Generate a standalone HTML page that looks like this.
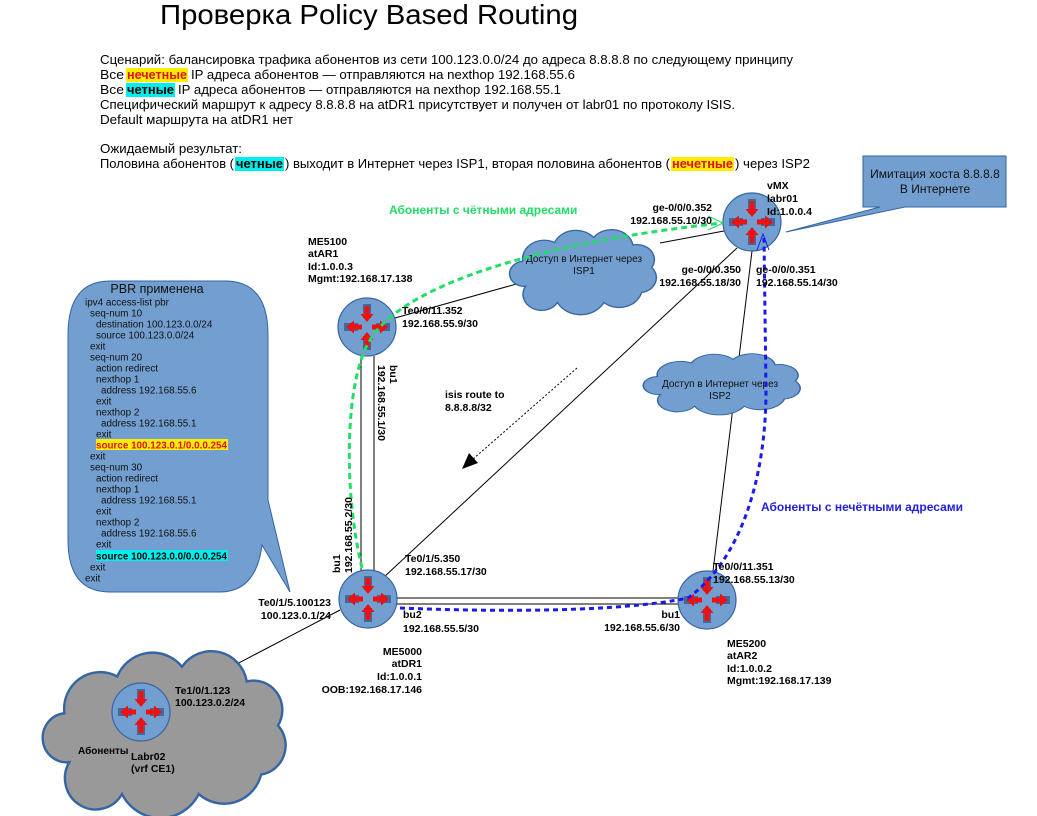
<!DOCTYPE html>
<html><head><meta charset="utf-8"><style>
html,body{margin:0;padding:0;background:#fff;}
svg{display:block;font-family:"Liberation Sans","DejaVu Sans",sans-serif;}
.b{font-weight:bold;font-size:10.5px;fill:#000;}
.p{font-size:9.9px;fill:#111;}
.s{font-size:13px;fill:#000;}
</style></head><body>
<svg width="1037" height="816" viewBox="0 0 1037 816" xmlns="http://www.w3.org/2000/svg">
<defs>
<path id="cl" d="M8,45 A10,10 0 0 1 6,25 A15,15 0 0 1 28,10 A16,16 0 0 1 55,6 A15,15 0 0 1 82,12 A12,12 0 0 1 95,30 A12,12 0 0 1 88,50 A16,16 0 0 1 62,58 A18,18 0 0 1 30,58 A12,12 0 0 1 8,45 Z"/>
<g id="rt">
<circle r="29" fill="#729fcf" stroke="#3465a4" stroke-width="1.2"/>
<g fill="#3f6aa0">
<rect x="-4" y="-23" width="8" height="14"/><rect x="-4" y="9" width="8" height="14"/>
<rect x="-23" y="-4" width="14" height="8"/><rect x="9" y="-4" width="14" height="8"/>
</g>
<g fill="#ee1111">
<rect x="-2.5" y="-21" width="5" height="9"/><polygon points="-6.5,-13 6.5,-13 0,-5"/>
<rect x="-2.5" y="12" width="5" height="9"/><polygon points="-6.5,13 6.5,13 0,5"/>
<rect x="-13" y="-2.5" width="8" height="5"/><polygon points="-13,-6.5 -13,6.5 -21,0"/>
<rect x="5" y="-2.5" width="8" height="5"/><polygon points="13,-6.5 13,6.5 21,0"/>
</g>
</g>
</defs>

<text x="160" y="24" font-size="28" textLength="418" lengthAdjust="spacingAndGlyphs">Проверка Policy Based Routing</text>
<text class="s" x="100" y="64" textLength="693" lengthAdjust="spacingAndGlyphs">Сценарий: балансировка трафика абонентов из сети 100.123.0.0/24  до адреса 8.8.8.8 по следующему принципу</text>
<text class="s" x="100" y="79" textLength="24" lengthAdjust="spacingAndGlyphs">Все</text>
<rect x="126" y="68" width="62" height="14" fill="#ffee00"/>
<text class="s" x="127" y="79" font-weight="bold" style="fill:#dd1111" textLength="60" lengthAdjust="spacingAndGlyphs">нечетные</text>
<text class="s" x="191" y="79" textLength="384" lengthAdjust="spacingAndGlyphs">IP адреса абонентов — отправляются на nexthop 192.168.55.6</text>
<text class="s" x="100" y="94" textLength="24" lengthAdjust="spacingAndGlyphs">Все</text>
<rect x="126" y="83" width="49" height="14" fill="#00eeee"/>
<text class="s" x="127" y="94" font-weight="bold" textLength="47" lengthAdjust="spacingAndGlyphs">четные</text>
<text class="s" x="178" y="94" textLength="383" lengthAdjust="spacingAndGlyphs">IP адреса абонентов — отправляются на nexthop 192.168.55.1</text>
<text class="s" x="100" y="109" textLength="635" lengthAdjust="spacingAndGlyphs">Специфический маршрут к адресу 8.8.8.8 на atDR1 присутствует и получен от labr01 по протоколу ISIS.</text>
<text class="s" x="100" y="124" textLength="193" lengthAdjust="spacingAndGlyphs">Default маршрута  на atDR1 нет</text>
<text class="s" x="100" y="153" textLength="142" lengthAdjust="spacingAndGlyphs">Ожидаемый результат:</text>
<text class="s" x="100" y="168" textLength="134" lengthAdjust="spacingAndGlyphs">Половина абонентов (</text>
<rect x="235" y="157" width="49" height="14" fill="#00eeee"/>
<text class="s" x="236" y="168" font-weight="bold" textLength="47" lengthAdjust="spacingAndGlyphs">четные</text>
<text class="s" x="285" y="168" textLength="385" lengthAdjust="spacingAndGlyphs">) выходит в Интернет через ISP1, вторая половина абонентов (</text>
<rect x="671" y="157" width="63" height="14" fill="#ffee00"/>
<text class="s" x="672" y="168" font-weight="bold" style="fill:#dd1111" textLength="61" lengthAdjust="spacingAndGlyphs">нечетные</text>
<text class="s" x="735" y="168" textLength="75" lengthAdjust="spacingAndGlyphs">) через ISP2</text>

<g stroke="#000" stroke-width="1" fill="none">
<line x1="361" y1="356" x2="361" y2="571"/><line x1="374" y1="356" x2="374" y2="571"/>
<line x1="397" y1="598" x2="680" y2="598"/><line x1="397" y1="604" x2="680" y2="604"/>
<line x1="395" y1="318" x2="520" y2="283"/>
<line x1="660" y1="243" x2="724" y2="231"/>
<line x1="737" y1="248" x2="383" y2="578"/>
<line x1="752" y1="251" x2="713" y2="571"/>
<line x1="168" y1="700" x2="340" y2="610"/>
</g>

<use href="#cl" transform="translate(514,230) scale(1.45,1.25)" fill="#729fcf" stroke="#3465a4" stroke-width="1" vector-effect="non-scaling-stroke"/>
<use href="#cl" transform="translate(648,354) scale(1.55,0.9)" fill="#729fcf" stroke="#3465a4" stroke-width="1" vector-effect="non-scaling-stroke"/>
<use href="#cl" transform="translate(50,652) scale(2.4,2.45)" fill="#999999" stroke="#3465a4" stroke-width="1" vector-effect="non-scaling-stroke"/>
<text x="584" y="262" font-size="10" text-anchor="middle" fill="#111">Доступ в Интернет через</text>
<text x="584" y="274" font-size="10" text-anchor="middle" fill="#111">ISP1</text>
<text x="720" y="387" font-size="10" text-anchor="middle" fill="#111">Доступ в Интернет через</text>
<text x="720" y="399" font-size="10" text-anchor="middle" fill="#111">ISP2</text>

<use href="#rt" x="367" y="327"/>
<use href="#rt" x="752" y="222"/>
<use href="#rt" x="368" y="599"/>
<use href="#rt" x="707" y="600"/>
<use href="#rt" x="141" y="712"/>

<path d="M110,281 H225 Q268,281 268,335 V500 L290,592 L262,545 Q256,592 220,592 H110 Q68,592 68,540 V335 Q68,281 110,281 Z" fill="#729fcf" stroke="#3465a4" stroke-width="1"/>
<text x="157" y="293" font-size="12.5" text-anchor="middle" fill="#111">PBR применена</text>
<g class="p">
<text x="85" y="305.5">ipv4 access-list pbr</text>
<text x="90" y="316.5">seq-num 10</text>
<text x="96" y="327.5">destination 100.123.0.0/24</text>
<text x="96" y="338.5">source 100.123.0.0/24</text>
<text x="90" y="349.5">exit</text>
<text x="90" y="360.5">seq-num 20</text>
<text x="96" y="371.5">action redirect</text>
<text x="96" y="382.5">nexthop 1</text>
<text x="101" y="393.5">address 192.168.55.6</text>
<text x="96" y="404.5">exit</text>
<text x="96" y="415.5">nexthop 2</text>
<text x="101" y="426.5">address 192.168.55.1</text>
<text x="96" y="437.5">exit</text>
<rect x="96" y="439" width="132" height="11" fill="#ffee00"/>
<text x="96" y="448.5" font-weight="bold" style="fill:#dd1111" textLength="131" lengthAdjust="spacingAndGlyphs">source 100.123.0.1/0.0.0.254</text>
<text x="90" y="459.5">exit</text>
<text x="90" y="470.5">seq-num 30</text>
<text x="96" y="481.5">action redirect</text>
<text x="96" y="492.5">nexthop 1</text>
<text x="101" y="503.5">address 192.168.55.1</text>
<text x="96" y="514.5">exit</text>
<text x="96" y="525.5">nexthop 2</text>
<text x="101" y="536.5">address 192.168.55.6</text>
<text x="96" y="547.5">exit</text>
<rect x="96" y="550" width="132" height="11" fill="#00eeee"/>
<text x="96" y="559.5" font-weight="bold" style="fill:#000" textLength="131" lengthAdjust="spacingAndGlyphs">source 100.123.0.0/0.0.0.254</text>
<text x="90" y="570.5">exit</text>
<text x="85" y="581.5">exit</text>
</g>

<path d="M863,156 H1006 V207 H905 L786,232 L880,207 H863 Z" fill="#729fcf" stroke="#3465a4" stroke-width="1"/>
<text x="935" y="178" font-size="12" text-anchor="middle" fill="#111">Имитация хоста 8.8.8.8</text>
<text x="935" y="193" font-size="12" text-anchor="middle" fill="#111">В Интернете</text>

<path d="M362,568 C343,490 345,380 370,340 C400,290 520,245 722,223" fill="none" stroke="#22dd66" stroke-width="3" stroke-dasharray="6,4"/>
<polyline points="708,216 723,223 708,230" fill="none" stroke="#22dd66" stroke-width="1"/>
<path d="M400,608 C500,612 620,612 688,598 C740,560 766,480 766,390 L764,238" fill="none" stroke="#1a1aee" stroke-width="3" stroke-dasharray="5,4"/>
<polyline points="757,250 763,234 769,250" fill="none" stroke="#1a1aee" stroke-width="1"/>

<line x1="577" y1="368" x2="472" y2="460" stroke="#000" stroke-width="1" stroke-dasharray="2,2"/>
<polygon points="462,469 469,453 478,463" fill="#000"/>

<text x="389" y="214" font-size="12" font-weight="bold" fill="#22dd66">Абоненты с чётными адресами</text>
<text x="761" y="511" font-size="12" font-weight="bold" fill="#2222dd">Абоненты с нечётными адресами</text>
<g class="b">
<text x="308" y="245">ME5100</text><text x="308" y="257">atAR1</text><text x="308" y="270">Id:1.0.0.3</text><text x="308" y="282">Mgmt:192.168.17.138</text>
<text x="402" y="314">Te0/0/11.352</text><text x="402" y="327">192.168.55.9/30</text>
<text x="767" y="189">vMX</text><text x="767" y="202">labr01</text><text x="767" y="215">Id:1.0.0.4</text>
<text x="712" y="211" text-anchor="end">ge-0/0/0.352</text><text x="712" y="224" text-anchor="end">192.168.55.10/30</text>
<text x="741" y="273" text-anchor="end">ge-0/0/0.350</text><text x="741" y="286" text-anchor="end">192.168.55.18/30</text>
<text x="756" y="273">ge-0/0/0.351</text><text x="756" y="286">192.168.55.14/30</text>
<text x="445" y="398">isis route to</text><text x="445" y="411">8.8.8.8/32</text>
<text transform="translate(390,365) rotate(90)">bu1</text>
<text transform="translate(378,365) rotate(90)">192.168.55.1/30</text>
<text transform="translate(340,573) rotate(-90)">bu1</text>
<text transform="translate(352,573) rotate(-90)">192.168.55.2/30</text>
<text x="405" y="562">Te0/1/5.350</text><text x="405" y="575">192.168.55.17/30</text>
<text x="331" y="606" text-anchor="end">Te0/1/5.100123</text><text x="331" y="619" text-anchor="end">100.123.0.1/24</text>
<text x="403" y="618">bu2</text><text x="403" y="632">192.168.55.5/30</text>
<text x="422" y="655" text-anchor="end">ME5000</text><text x="422" y="667" text-anchor="end">atDR1</text><text x="422" y="680" text-anchor="end">Id:1.0.0.1</text><text x="422" y="693" text-anchor="end">OOB:192.168.17.146</text>
<text x="680" y="618" text-anchor="end">bu1</text><text x="680" y="631" text-anchor="end">192.168.55.6/30</text>
<text x="713" y="570">Te0/0/11.351</text><text x="713" y="583">192.168.55.13/30</text>
<text x="727" y="647">ME5200</text><text x="727" y="659">atAR2</text><text x="727" y="672">Id:1.0.0.2</text><text x="727" y="684">Mgmt:192.168.17.139</text>
<text x="175" y="694">Te1/0/1.123</text><text x="175" y="706">100.123.0.2/24</text>
<text x="78" y="754" font-size="10">Абоненты</text>
<text x="131" y="760">Labr02</text><text x="131" y="772">(vrf CE1)</text>
</g>
</svg>
</body></html>
